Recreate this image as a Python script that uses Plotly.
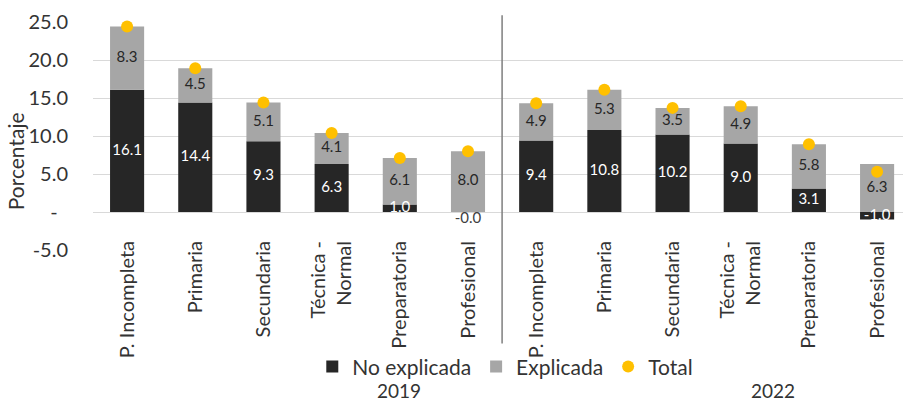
import plotly.graph_objects as go

# Education levels (x categories) and survey years
niveles = ["P. Incompleta", "Primaria", "Secundaria", "Técnica -<br>Normal", "Preparatoria", "Profesional"]
anios = ["2019", "2022"]

# Wage-gap decomposition, percentage points
no_explicada_2019 = [16.1, 14.4, 9.3, 6.3, 1.0, -0.0]
explicada_2019 = [8.3, 4.5, 5.1, 4.1, 6.1, 8.0]
no_explicada_2022 = [9.4, 10.8, 10.2, 9.0, 3.1, -1.0]
explicada_2022 = [4.9, 5.3, 3.5, 4.9, 5.8, 6.3]

# Y-axis ticks
y_ticks = [-5, 0, 5, 10, 15, 20, 25]
y_tick_text = ["-5.0", "-  ", "5.0", "10.0", "15.0", "20.0", "25.0"]

C_DARK = "#262626"
C_GRAY = "#a6a6a6"
C_GOLD = "#ffc000"
C_TEXT = "#333333"
FONT = "Lato"

no_explicada = no_explicada_2019 + no_explicada_2022
explicada = explicada_2019 + explicada_2022
total = [round(a + b, 1) for a, b in zip(no_explicada, explicada)]
etiquetas = niveles + niveles
xs = list(range(len(etiquetas)))

fig = go.Figure()
fig.add_trace(go.Bar(x=xs, y=no_explicada, name="No explicada", marker_color=C_DARK,
                     width=0.5, marker_line_width=0))
fig.add_trace(go.Bar(x=xs, y=explicada, name="Explicada", marker_color=C_GRAY,
                     width=0.5, marker_line_width=0))
fig.add_trace(go.Scatter(x=xs, y=total, name="Total", mode="markers",
                         marker=dict(color=C_GOLD, size=12), cliponaxis=False))

# Value labels centred in each segment
in_x, in_y, in_t, out_x, out_y, out_t = [], [], [], [], [], []
for x, v in zip(xs, no_explicada):
    if abs(v) < 0.05:
        out_x.append(x); out_y.append(0); out_t.append(f"{v:.1f}")
    else:
        in_x.append(x); in_y.append(v / 2); in_t.append(f"{v:.1f}")
fig.add_trace(go.Scatter(x=in_x, y=in_y, text=in_t, mode="text", showlegend=False,
                         textfont=dict(color="white", size=15, family=FONT), hoverinfo="skip"))
fig.add_trace(go.Scatter(x=out_x, y=out_y, text=out_t, mode="text", textposition="bottom center",
                         showlegend=False, cliponaxis=False,
                         textfont=dict(color="#404040", size=15, family=FONT), hoverinfo="skip"))
fig.add_trace(go.Scatter(x=xs, y=[max(n, 0) + e / 2 for n, e in zip(no_explicada, explicada)],
                         text=[f"{e:.1f}" for e in explicada], mode="text", showlegend=False,
                         textfont=dict(color=C_DARK, size=15, family=FONT), hoverinfo="skip"))

# Year separator
fig.add_shape(type="line", xref="x", yref="paper", x0=5.5, x1=5.5, y0=-0.41, y1=1.03,
              line=dict(color="#7f7f7f", width=1.5))

# Year labels
for xc, anio in zip([3.99, 9.47], anios):
    fig.add_annotation(x=xc, y=-0.618, xref="x", yref="paper", text=anio, showarrow=False,
                       font=dict(size=19, color=C_TEXT, family=FONT), yanchor="middle")

# Y-axis title
fig.add_annotation(x=-0.114, y=0.39, xref="paper", yref="paper", text="Porcentaje",
                   textangle=-90, showarrow=False, font=dict(size=21, color=C_TEXT, family=FONT))

fig.update_layout(
    width=903, height=402,
    margin=dict(l=93, r=0, t=22, b=152),
    barmode="relative",
    plot_bgcolor="white", paper_bgcolor="white",
    font=dict(family=FONT, color=C_TEXT),
    showlegend=True,
    legend=dict(orientation="h", x=0.509, y=-0.513, xanchor="center", yanchor="middle",
                bgcolor="rgba(0,0,0,0)",
                font=dict(size=21, family=FONT, color=C_TEXT), itemwidth=30, traceorder="normal"),
    xaxis=dict(range=[-0.5, 11.38], tickvals=xs, ticktext=etiquetas, tickangle=-90,
               showgrid=False, zeroline=False, showline=False, ticks="",
               ticklabelstandoff=-14,
               tickfont=dict(size=20, family=FONT, color=C_TEXT)),
    yaxis=dict(range=[-5, 25], tickvals=y_ticks, ticktext=y_tick_text,
               showgrid=True, gridcolor="#d9d9d9", gridwidth=1,
               zeroline=True, zerolinecolor="#d9d9d9", zerolinewidth=1,
               showline=False, ticks="", ticklabelstandoff=24,
               tickfont=dict(size=20, family=FONT, color=C_TEXT)),
)

fig.write_html("out.html")
